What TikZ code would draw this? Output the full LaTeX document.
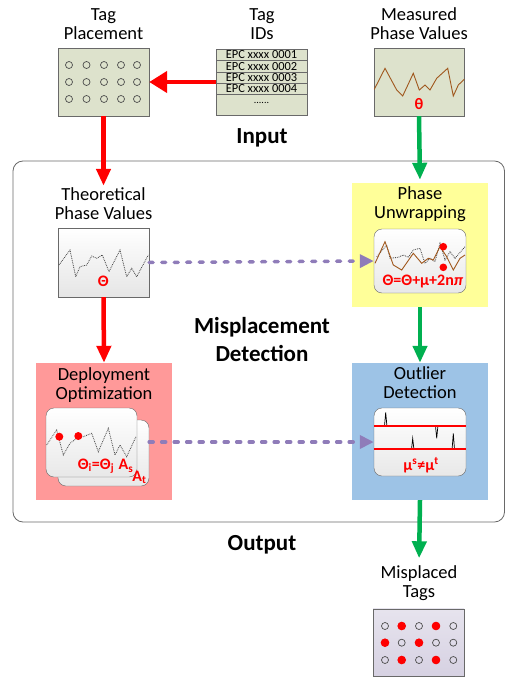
\documentclass[tikz,border=0pt]{standalone}
\usepackage{fontspec}
\setmainfont{Carlito}
\usetikzlibrary{arrows.meta,positioning}

\definecolor{inputgreen}{RGB}{221,226,204}
\definecolor{boxgrey}{RGB}{105,105,105}
\definecolor{arrowred}{RGB}{255,0,0}
\definecolor{arrowgreen}{RGB}{0,176,80}
\definecolor{dashpurple}{RGB}{143,124,185}
\definecolor{phasebrown}{RGB}{160,88,30}
\definecolor{unwrapyellow}{RGB}{255,255,153}
\definecolor{deploypink}{RGB}{255,153,153}
\definecolor{outlierblue}{RGB}{157,195,230}
\definecolor{tagslilac}{RGB}{214,209,226}

\tikzset{
  boxtitle/.style={align=center, font=\fontsize{18.5}{19}\selectfont, inner sep=1pt},
  heading/.style={align=center, font=\fontsize{23}{28}\selectfont\bfseries, inner sep=0pt},
  inbox/.style={draw=boxgrey, fill=inputgreen, minimum width=91pt, minimum height=68pt, inner sep=0pt},
  card/.style={draw=boxgrey, rounded corners=8pt, top color=white, bottom color=black!9, inner sep=0pt},
  stagebox/.style={minimum width=136pt, inner sep=0pt},
  epcrow/.style={draw=boxgrey, fill=inputgreen, minimum width=91pt, minimum height=11.3pt, inner sep=0pt, font=\fontsize{12.4}{12}\selectfont},
  formula/.style={text=arrowred, font=\fontsize{16}{16}\selectfont\bfseries, inner sep=0pt},
  redarrow/.style={draw=arrowred, line width=4.5pt, -{Triangle[length=17pt,width=14pt]}},
  greenarrow/.style={draw=arrowgreen, line width=4.5pt, -{Triangle[length=17pt,width=14pt]}},
  purplearrow/.style={draw=dashpurple, line width=3.5pt, line cap=round, dash pattern=on 4pt off 8.5pt, -{Triangle[length=14pt,width=13pt]}},
  tagdot/.style={draw=black!70, line width=0.7pt},
  limitline/.style={draw=arrowred, line width=1.8pt},
}

\begin{document}
\begin{tikzpicture}[x=1pt, y=-1pt]
  \useasboundingbox (0,0) rectangle (505,677);

  % outer frame of the detection stage
  \draw [boxgrey, line width=0.8pt, rounded corners=10pt] (13,161) rectangle (504.5,522);

  % input
  \node [boxtitle] (placetitle) at (103.5,24) {Tag\\Placement};
  \node [boxtitle] (idstitle) at (262,24) {Tag\\IDs};
  \node [boxtitle] (meastitle) at (419,24) {Measured\\Phase Values};

  \node [inbox] (tagplace) at (103.5,82) {};
  \foreach \x in {69,86.5,104,121,137}
    \foreach \y in {65,82,99}
      \draw [tagdot] (\x,\y) circle (3.5);

  \node [inbox, minimum height=66pt] (tagids) at (261.5,82) {};
  \foreach \i/\y in {1/54.8,2/66.2,3/77.5,4/88.8}
    \node [epcrow] (epc\i) at (261.5,\y) {EPC xxxx 000\i};
  \node [font=\fontsize{10}{10}\selectfont] (epcmore) at (261.5,103) {......};

  \node [inbox, minimum width=90pt] (measured) at (419,82) {};
  \draw [phasebrown, line width=0.9pt] plot coordinates {(374.3,89.3) (385,68.3) (396.7,90) (402.7,96) (413.3,73.3) (419.3,90) (425,85) (430,90) (436.7,78.3) (447.7,68.3) (453.3,96) (458.3,85) (464.3,79.3)};
  \node [formula] (theta) at (419,104) {θ};

  \node [heading] (inputlabel) at (262,138) {Input};

  % theoretical phase
  \node [boxtitle] (theotitle) at (103.5,204) {Theoretical\\Phase Values};
  \node [draw=boxgrey, top color=white, bottom color=black!10, minimum width=91pt, minimum height=69pt, inner sep=0pt] (theobox) at (103.5,262.5) {};
  \draw [black!75, densely dotted, line width=0.8pt] plot coordinates {(59,265) (70,250) (75.7,276.7) (80,266.7) (86.7,265) (91.7,256) (96.7,258.3) (102.3,255) (109,271.7) (120,250) (126.7,276.7) (131.7,268.3) (136.7,276.7) (148.3,255)};
  \node [formula] (bigtheta) at (103.3,281.7) {Θ};

  % phase unwrapping
  \node [stagebox, fill=unwrapyellow, minimum height=124pt] (unwrap) at (420,245) {};
  \node [boxtitle] (unwraptitle) at (420,204) {Phase\\Unwrapping};
  \node [card, minimum width=92pt, minimum height=64pt] (unwrapcard) at (420,261) {};
  \draw [black!75, densely dotted, line width=0.8pt] plot coordinates {(376.7,256.7) (386.7,245) (390,258.3) (398.3,257.3) (403.3,255) (408.3,257.3) (413.3,250) (420,248.3) (425,263.3) (430,258.3) (435,261.7) (440,243.3) (445,260) (450,251.7) (455,258.3) (465,246.7)};
  \draw [phasebrown, line width=0.9pt] plot coordinates {(375,263.3) (385,241.7) (393.3,265) (401.7,270) (413.3,253.3) (421.7,263.3) (428.3,258.3) (433.3,260) (440,246.7) (446.7,256.7) (453.3,270) (460,258.3) (465,255)};
  \fill [arrowred] (443.3,246.7) circle (3.8);
  \fill [arrowred] (443.3,267.3) circle (3.8);
  \node [formula] (unwrapeq) at (423,282) {Θ=Θ+μ+2n\textit{π}};

  \node [heading] (detectlabel) at (262,340) {Misplacement\\Detection};

  % deployment optimization
  \node [stagebox, fill=deploypink, minimum height=137pt] (deploy) at (104,431.5) {};
  \node [boxtitle] (deploytitle) at (104,385) {Deployment\\Optimization};
  \node [card, minimum width=91pt, minimum height=66pt] (deployback) at (103.5,453) {};
  \node [card, minimum width=91pt, minimum height=69pt] (deployfront) at (91.5,442.5) {};
  \draw [black!75, densely dotted, line width=0.8pt] plot coordinates {(46.7,445) (56.7,430) (63.3,455) (70,443.3) (76.7,438.3) (83.3,436.7) (91.7,433.3) (98.3,451.7) (108.3,428.3) (115,455) (120,445) (126.7,456.7) (136,436.7)};
  \fill [arrowred] (59.3,436.7) circle (4);
  \fill [arrowred] (78.3,436) circle (4);
  \node [formula] (sameeq) at (96,466) {Θ\textsubscript{i}=Θ\textsubscript{j}};
  \node [formula] (antenna) at (126,466) {A\textsubscript{s}};
  \node [formula] (antennat) at (139.5,477.5) {A\textsubscript{t}};

  % outlier detection
  \node [stagebox, fill=outlierblue, minimum height=137pt] (outlier) at (420,431.5) {};
  \node [boxtitle] (outliertitle) at (420,383) {Outlier\\Detection};
  \node [card, minimum width=92pt, minimum height=68pt] (outliercard) at (420,442) {};
  \draw [black, line width=0.7pt] (384.5,426) -- (385.7,412.3) -- (386.9,426);
  \draw [black, line width=0.7pt] (411.5,449.3) -- (412.7,438.3) -- (413.9,449.3);
  \draw [black, line width=0.7pt] (452.1,449.3) -- (453.3,433.3) -- (454.5,449.3);
  \draw [black, line width=0.7pt] (435.5,426) -- (436.7,438.3) -- (437.9,426);
  \coordinate (upperleft) at (374,426);
  \coordinate (upperright) at (466,426);
  \coordinate (lowerleft) at (374,449.3);
  \coordinate (lowerright) at (466,449.3);
  \draw [limitline] (upperleft) -- (upperright);
  \draw [limitline] (lowerleft) -- (lowerright);
  \node [formula] (outliereq) at (421,465) {μ\textsuperscript{s}≠μ\textsuperscript{t}};

  \node [heading] (outputlabel) at (262,545) {Output};

  % output
  \node [boxtitle] (misstitle) at (419,583) {Misplaced\\Tags};
  \node [draw=boxgrey, top color=tagslilac!60, bottom color=tagslilac, minimum width=91pt, minimum height=67.5pt, inner sep=0pt] (misplaced) at (418.5,642.7) {};
  \foreach \x in {385,401.7,419,436,453.3}
    \foreach \y in {626,642.7,660}
      \draw [tagdot] (\x,\y) circle (3.5);
  \foreach \x/\y in {401.7/626,436/626,385/642.7,419/642.7,401.7/660,436/660}
    \fill [arrowred] (\x,\y) circle (4.3);

  % connectors
  \draw [redarrow, -{Triangle[length=18pt,width=21pt]}] (tagids.west) -- (tagplace.east);
  \draw [redarrow, shorten >=1pt] (tagplace.south) -- (theotitle.north);
  \draw [greenarrow, shorten >=3pt] (measured.south) -- (unwrap.north);
  \draw [redarrow] (theobox.south) -- (deploy.north);
  \draw [greenarrow] (unwrap.south) -- (outlier.north);
  \draw [greenarrow, shorten >=6pt] (outlier.south) -- (misstitle.north);
  \draw [purplearrow] (theobox.east) -- (unwrapcard.west);
  \draw [purplearrow] (deployback.east |- outliercard.west) -- (outliercard.west);
\end{tikzpicture}
\end{document}
